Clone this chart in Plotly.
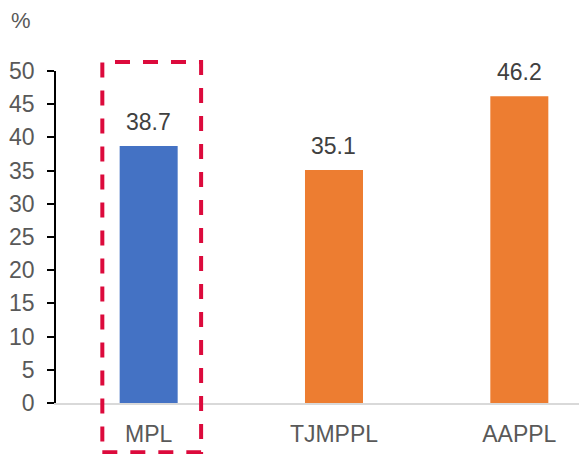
import plotly.graph_objects as go

categories = ["MPL", "TJMPPL", "AAPPL"]
values = [38.7, 35.1, 46.2]
bar_colors = ["#4472C4", "#ED7D31", "#ED7D31"]
y_ticks = [0, 5, 10, 15, 20, 25, 30, 35, 40, 45, 50]

FONT = "Liberation Sans, Arial, sans-serif"
xpos = list(range(len(categories)))

fig = go.Figure()
fig.add_trace(go.Bar(
    x=xpos, y=values, width=0.313,
    marker=dict(color=bar_colors, line=dict(width=0)),
    hoverinfo="skip", showlegend=False,
))

for xi, v in zip(xpos, values):
    fig.add_annotation(x=xi, y=v, xref="x", yref="y", text=f"{v:.1f}",
                       showarrow=False, yanchor="middle", yshift=24,
                       font=dict(family=FONT, size=23, color="#404040"))

fig.add_annotation(x=0, y=1, xref="paper", yref="paper", text="%",
                   xanchor="center", yanchor="middle", xshift=-35, yshift=51,
                   showarrow=False, font=dict(family=FONT, size=22, color="#595959"))

# highlight box around first category
fig.add_shape(type="rect", xref="x", yref="paper",
              x0=xpos[0] - 0.25, x1=xpos[0] + 0.283, y0=-0.148, y1=1.027,
              line=dict(color="#DC0A3C", width=4, dash="15px,13px"),
              fillcolor="rgba(0,0,0,0)", layer="above")

fig.update_layout(
    width=579, height=454,
    margin=dict(l=56, r=0, t=71, b=51),
    paper_bgcolor="white", plot_bgcolor="white",
    font=dict(family=FONT),
    xaxis=dict(range=[-0.5, 2.322], tickmode="array", tickvals=xpos, ticktext=categories,
               showgrid=False, zeroline=False, showline=True, linecolor="#D9D9D9", linewidth=1.5,
               ticks="", tickfont=dict(family=FONT, size=23, color="#595959"),
               ticklabelstandoff=10, fixedrange=True),
    yaxis=dict(range=[0, 50], tickmode="array", tickvals=y_ticks,
               showgrid=False, zeroline=False, showline=True, linecolor="black", linewidth=1.5,
               ticks="outside", ticklen=7, tickwidth=1.5, tickcolor="black",
               tickfont=dict(family=FONT, size=23, color="#595959"),
               ticklabelstandoff=8, fixedrange=True),
)

fig.write_html("out.html", config={"displayModeBar": False},
               post_script="document.body.style.margin='0';document.body.style.overflow='hidden';")
